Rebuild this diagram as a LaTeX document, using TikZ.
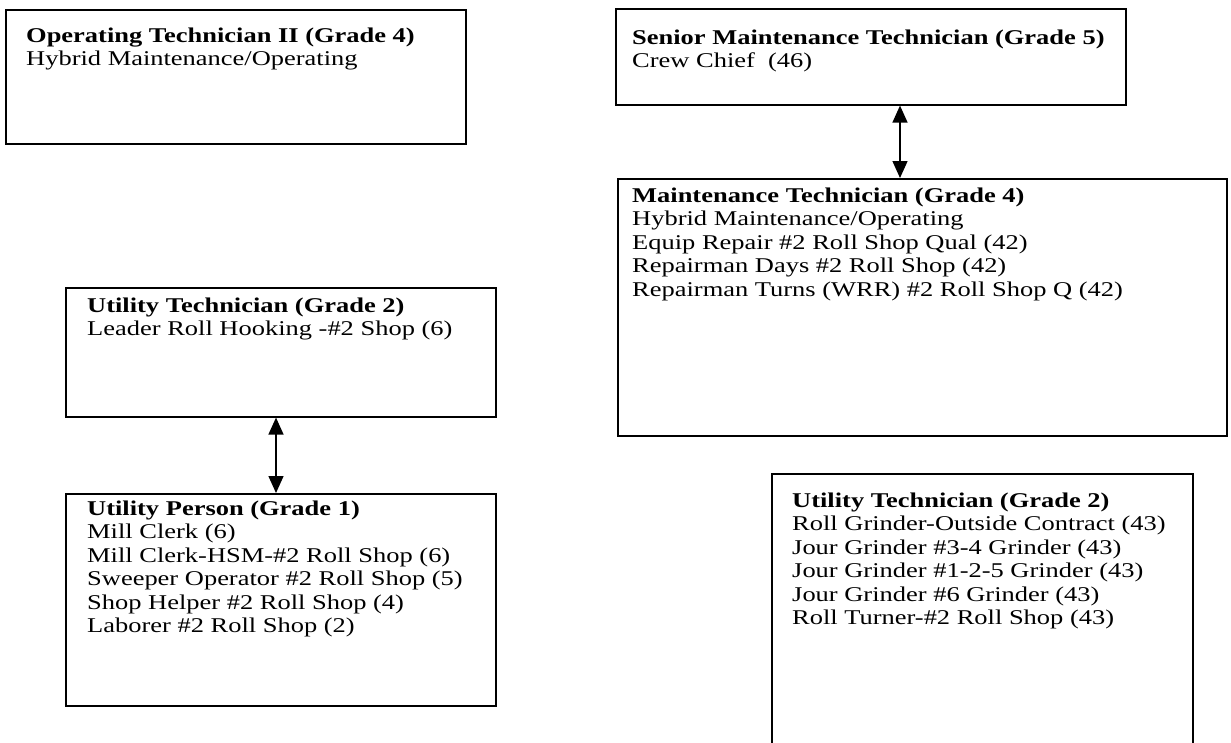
\documentclass[tikz,border=0pt]{standalone}
\usepackage{fontspec}
\setmainfont{Liberation Serif}[FakeStretch=1.26]
\usetikzlibrary{arrows.meta}
\newcommand\boxtext[1]{\begin{tabular}[t]{@{}l@{}}#1\end{tabular}}
\begin{document}
\begin{tikzpicture}[x=1pt,y=-1pt,
  box/.style={draw, line width=1.6pt, inner sep=0pt, anchor=north west},
  txt/.style={anchor=base west, inner sep=0pt, font=\fontsize{21}{23.5}\selectfont},
  link/.style={line width=1.4pt, {Triangle[length=17pt,width=15pt]}-{Triangle[length=17pt,width=15pt]}}]
\useasboundingbox (0,0) rectangle (1231,742);
\clip (0,0) rectangle (1231,742);
\fill[white] (0,0) rectangle (1231,742);
% boxes
\node[box, minimum width=460pt, minimum height=134pt] (b1) at (5,9) {};
\node[box, minimum width=510pt, minimum height=96pt] (b2) at (615,8) {};
\node[box, minimum width=609pt, minimum height=257pt] (b3) at (617,178) {};
\node[box, minimum width=430pt, minimum height=129pt] (b4) at (65,287) {};
\node[box, minimum width=430pt, minimum height=212pt] (b5) at (65,493) {};
\node[box, minimum width=421pt, minimum height=300pt] (b6) at (771,473) {};
% texts
\node[txt] (t1) at (26,42) {\boxtext{\textbf{Operating Technician II (Grade 4)}\\ Hybrid Maintenance/Operating}};
\node[txt] (t2) at (632,44) {\boxtext{\textbf{Senior Maintenance Technician (Grade 5)}\\ Crew Chief\ \ (46)}};
\node[txt] (t3) at (632,202) {\boxtext{\textbf{Maintenance Technician (Grade 4)}\\ Hybrid Maintenance/Operating\\ Equip Repair \#2 Roll Shop Qual (42)\\ Repairman Days \#2 Roll Shop (42)\\ Repairman Turns (WRR) \#2 Roll Shop Q (42)}};
\node[txt] (t4) at (87,312) {\boxtext{\textbf{Utility Technician (Grade 2)}\\ Leader Roll Hooking -\#2 Shop (6)}};
\node[txt] (t5) at (87,515) {\boxtext{\textbf{Utility Person (Grade 1)}\\ Mill Clerk (6)\\ Mill Clerk-HSM-\#2 Roll Shop (6)\\ Sweeper Operator \#2 Roll Shop (5)\\ Shop Helper \#2 Roll Shop (4)\\ Laborer \#2 Roll Shop (2)}};
\node[txt] (t6) at (792,507) {\boxtext{\textbf{Utility Technician (Grade 2)}\\ Roll Grinder-Outside Contract (43)\\ Jour Grinder \#3-4 Grinder (43)\\ Jour Grinder \#1-2-5 Grinder (43)\\ Jour Grinder \#6 Grinder (43)\\ Roll Turner-\#2 Roll Shop (43)}};
% connectors
\coordinate (ax1) at (900,0);
\coordinate (ax2) at (276,0);
\draw[link] (b2.south -| ax1) -- (b3.north -| ax1);
\draw[link] (b4.south -| ax2) -- (b5.north -| ax2);
\end{tikzpicture}
\end{document}
